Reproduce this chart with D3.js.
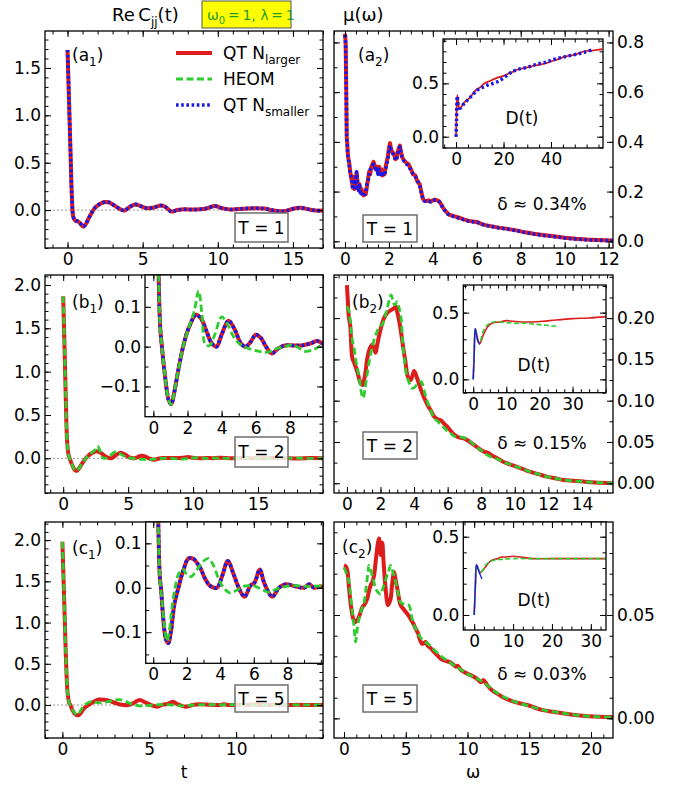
<!DOCTYPE html>
<html><head><meta charset="utf-8">
<script src="https://cdn.jsdelivr.net/npm/d3@7"></script>
<style>
body{margin:0;background:#fff;}
svg{font-family:"DejaVu Sans",sans-serif;}
</style></head><body>
<svg id="fig" width="681" height="786"></svg>
<script>
// ---------- Re C_jj(t), T = 1 ----------
const a1Larger=[[0,1.69],[0.1,1.15],[0.2,0.6],[0.3,0.1],[0.38,-0.07],[0.5,-0.11],[0.7,-0.12],[0.85,-0.14],[1.05,-0.175],[1.2,-0.15],[1.4,-0.09],[1.6,-0.03],[1.8,0.02],[2.1,0.06],[2.5,0.085],[2.8,0.08],[3.1,0.05],[3.5,0.01],[3.8,-0.005],[4.1,0.03],[4.5,0.06],[4.9,0.04],[5.3,0.02],[5.8,0.03],[6.2,0.048],[6.5,0.035],[6.9,-0.015],[7.3,0.0],[7.8,0.008],[8.3,0.005],[8.8,0.008],[9.3,0.02],[9.8,0.042],[10.3,0.02],[10.8,0.006],[11.4,0.012],[12,0.018],[12.6,0.02],[13.1,0.016],[13.6,0.0],[14.1,-0.012],[14.5,-0.01],[15,0.015],[15.5,0.025],[16,0.01],[16.5,-0.005],[17,-0.005]];
const a1Smaller=[[0,1.69],[0.1,1.15],[0.2,0.6],[0.3,0.1],[0.38,-0.07],[0.5,-0.11],[0.7,-0.12],[0.85,-0.14],[1.05,-0.175],[1.2,-0.15],[1.4,-0.09],[1.6,-0.03],[1.8,0.02],[2.1,0.06],[2.5,0.085],[2.8,0.08],[3.1,0.05],[3.5,0.01],[3.8,-0.005],[4.1,0.03],[4.5,0.06],[4.9,0.04],[5.3,0.02],[5.8,0.03],[6.2,0.048],[6.5,0.035],[6.9,-0.015],[7.3,0.0],[7.8,0.008],[8.3,0.005],[8.8,0.008],[9.3,0.02],[9.8,0.042],[10.3,0.02],[10.8,0.006],[11.4,0.012],[12,0.018],[12.6,0.02],[13.1,0.016],[13.6,0.0],[14.1,-0.012],[14.5,-0.01],[15,0.015],[15.5,0.025],[16,0.01],[16.5,-0.005],[17,-0.005]];

// ---------- Re C_jj(t), T = 2 ----------
const b1Larger=[[0,1.87],[0.1,1.3],[0.2,0.7],[0.3,0.2],[0.4,0.05],[0.5,0.0],[0.7,-0.08],[0.9,-0.135],[1.05,-0.145],[1.2,-0.12],[1.5,-0.05],[1.8,0.01],[2.1,0.05],[2.5,0.08],[2.8,0.07],[3.1,0.04],[3.4,0.01],[3.7,0.0],[4.0,0.03],[4.4,0.065],[4.8,0.04],[5.1,0.01],[5.4,0.0],[5.7,0.012],[6.0,0.03],[6.3,0.022],[6.6,0.0],[6.95,-0.017],[7.3,-0.005],[7.7,0.003],[8.2,0.003],[8.7,0.003],[9.2,0.008],[9.6,0.014],[10.0,0.006],[10.5,0.0],[11,0.004],[11.5,0.002],[12,0.006],[13,0.0],[14,0.004],[15,0.0],[16,0.003],[17,0.002],[18,-0.002],[19,0.004],[20,0.002]];
const b1Heom=[[0,1.87],[0.1,1.3],[0.2,0.7],[0.3,0.2],[0.4,0.05],[0.5,0.0],[0.7,-0.08],[0.9,-0.135],[1.05,-0.145],[1.2,-0.12],[1.5,-0.05],[1.8,0.01],[2.1,0.05],[2.4,0.09],[2.65,0.14],[2.85,0.08],[3.05,0.005],[3.3,0.003],[3.6,0.03],[4.0,0.075],[4.3,0.06],[4.7,0.025],[5.1,0.005],[5.6,-0.005],[6.2,-0.012],[6.7,-0.014],[7.2,-0.005],[7.7,0.0],[8.2,0.004],[8.9,-0.012],[9.5,-0.005],[10,0.006],[10.5,0.004],[11,0.0],[12,0.003],[13,-0.002],[14,0.002],[15,0.0],[16,0.002],[17,0.0],[18,0.002],[19,0.0],[20,0.001]];
const b1Smaller=[[0,1.87],[0.1,1.3],[0.2,0.7],[0.3,0.2],[0.4,0.05],[0.5,0.0],[0.7,-0.08],[0.9,-0.135],[1.05,-0.145],[1.2,-0.12],[1.5,-0.05],[1.8,0.01],[2.1,0.05],[2.5,0.08],[2.8,0.07],[3.1,0.04],[3.4,0.01],[3.7,0.0],[4.0,0.03],[4.4,0.065],[4.8,0.04],[5.1,0.01],[5.4,0.0],[5.7,0.012],[6.0,0.03],[6.3,0.022],[6.6,0.0],[6.95,-0.017],[7.3,-0.005],[7.7,0.003],[8.2,0.003],[8.7,0.003],[9.2,0.008],[9.6,0.014],[10.0,0.006]];

// ---------- Re C_jj(t), T = 5 ----------
const c1Larger=[[0,1.98],[0.1,1.3],[0.2,0.6],[0.3,0.15],[0.4,0.02],[0.46,0.0],[0.6,-0.07],[0.75,-0.115],[0.9,-0.125],[1.05,-0.1],[1.25,-0.04],[1.5,0.0],[1.8,0.04],[2.1,0.066],[2.4,0.065],[2.8,0.045],[3.1,0.02],[3.4,0.004],[3.8,0.0],[4.1,0.025],[4.45,0.06],[4.8,0.03],[5.1,0.0],[5.45,-0.02],[5.8,0.005],[6.05,0.012],[6.35,0.041],[6.65,0.008],[7.1,-0.02],[7.5,0.0],[7.9,0.008],[8.4,0.004],[9.0,0.0],[9.3,0.008],[9.6,0.0],[10,0.003],[10.5,0.002],[11,0.005],[11.5,0.0],[12,0.003],[12.5,0.004],[13,0.0],[13.5,0.002],[14,0.001],[15,0.0]];
const c1Heom=[[0,1.98],[0.1,1.3],[0.2,0.6],[0.3,0.15],[0.4,0.02],[0.5,-0.02],[0.65,-0.08],[0.82,-0.12],[0.95,-0.1],[1.1,-0.05],[1.3,0.0],[1.5,0.03],[1.75,0.042],[2.0,0.03],[2.25,0.025],[2.6,0.04],[3.0,0.06],[3.3,0.066],[3.6,0.05],[3.9,0.02],[4.2,0.0],[4.6,-0.012],[5.0,-0.005],[5.5,0.004],[6.0,0.004],[6.5,-0.004],[6.9,-0.01],[7.3,-0.004],[7.8,0.002],[8.5,0.005],[9.2,0.003],[10,0.004],[11,0.002],[12,0.0],[13,0.002],[14,0.001],[15,0.0]];
const c1Smaller=[[0,1.98],[0.1,1.3],[0.2,0.6],[0.3,0.15],[0.4,0.02],[0.46,0.0],[0.6,-0.07],[0.75,-0.115],[0.9,-0.125],[1.05,-0.1],[1.25,-0.04],[1.5,0.0],[1.8,0.04],[2.1,0.066],[2.4,0.065],[2.8,0.045],[3.1,0.02],[3.4,0.004],[3.8,0.0],[4.1,0.025],[4.45,0.06],[4.8,0.03],[5.1,0.0],[5.45,-0.02],[5.8,0.005],[6.05,0.012],[6.35,0.041],[6.65,0.008],[7.1,-0.02],[7.5,0.0],[7.9,0.008],[8.4,0.004],[9.0,0.0],[9.3,0.008],[9.6,0.0],[10,0.003]];

// ---------- mu(omega), T = 1 ----------
const a2Larger=[[0,0.835],[0.03,0.8],[0.06,0.6],[0.08,0.42],[0.1,0.4],[0.13,0.35],[0.16,0.33],[0.2,0.31],[0.24,0.28],[0.28,0.255],[0.32,0.24],[0.36,0.215],[0.4,0.26],[0.44,0.21],[0.48,0.24],[0.53,0.275],[0.57,0.24],[0.61,0.21],[0.66,0.23],[0.7,0.2],[0.75,0.21],[0.8,0.19],[0.85,0.185],[0.9,0.2],[0.95,0.19],[1.0,0.22],[1.05,0.25],[1.1,0.28],[1.15,0.27],[1.2,0.3],[1.25,0.31],[1.3,0.32],[1.35,0.305],[1.4,0.29],[1.45,0.3],[1.5,0.28],[1.55,0.3],[1.6,0.27],[1.65,0.29],[1.7,0.265],[1.75,0.28],[1.8,0.27],[1.85,0.3],[1.9,0.32],[1.95,0.34],[2.0,0.375],[2.05,0.395],[2.1,0.37],[2.15,0.36],[2.2,0.355],[2.25,0.345],[2.3,0.33],[2.35,0.335],[2.4,0.36],[2.45,0.375],[2.5,0.385],[2.55,0.36],[2.6,0.34],[2.65,0.33],[2.7,0.325],[2.8,0.315],[2.9,0.31],[3.0,0.29],[3.1,0.27],[3.2,0.265],[3.3,0.24],[3.4,0.23],[3.5,0.19],[3.55,0.17],[3.6,0.165],[3.7,0.162],[3.8,0.165],[3.9,0.16],[4.0,0.165],[4.1,0.168],[4.2,0.165],[4.3,0.16],[4.4,0.145],[4.5,0.13],[4.6,0.12],[4.7,0.11],[4.8,0.105],[5.0,0.1],[5.2,0.095],[5.4,0.088],[5.6,0.083],[5.8,0.08],[6.0,0.078],[6.2,0.07],[6.4,0.065],[6.7,0.06],[7.0,0.055],[7.4,0.05],[7.8,0.044],[8.2,0.036],[8.6,0.03],[9.0,0.025],[9.5,0.02],[10.0,0.014],[10.5,0.01],[11.0,0.007],[11.5,0.005],[12.2,0.003]];
const a2Smaller=[[0,0.83],[0.03,0.79],[0.06,0.58],[0.08,0.41],[0.1,0.39],[0.13,0.34],[0.16,0.33],[0.2,0.3],[0.24,0.27],[0.28,0.26],[0.32,0.23],[0.36,0.21],[0.4,0.25],[0.44,0.205],[0.48,0.235],[0.53,0.28],[0.57,0.235],[0.61,0.205],[0.66,0.225],[0.7,0.195],[0.75,0.2],[0.8,0.185],[0.85,0.18],[0.9,0.19],[0.95,0.2],[1.0,0.23],[1.05,0.24],[1.1,0.27],[1.15,0.29],[1.2,0.295],[1.25,0.3],[1.3,0.31],[1.35,0.3],[1.4,0.28],[1.45,0.29],[1.5,0.27],[1.55,0.29],[1.6,0.26],[1.65,0.28],[1.7,0.26],[1.75,0.27],[1.8,0.265],[1.85,0.29],[1.9,0.31],[1.95,0.33],[2.0,0.365],[2.05,0.385],[2.1,0.36],[2.15,0.355],[2.2,0.35],[2.25,0.34],[2.3,0.325],[2.35,0.33],[2.4,0.35],[2.45,0.37],[2.5,0.38],[2.55,0.355],[2.6,0.335],[2.65,0.33],[2.7,0.32],[2.8,0.31],[2.9,0.305],[3.0,0.285],[3.1,0.27],[3.2,0.26],[3.3,0.245],[3.4,0.225],[3.5,0.185],[3.55,0.17],[3.6,0.163],[3.7,0.16],[3.8,0.163],[3.9,0.158],[4.0,0.163],[4.1,0.166],[4.2,0.163],[4.3,0.158],[4.4,0.143],[4.5,0.128],[4.6,0.118],[4.7,0.108],[4.8,0.103],[5.0,0.098],[5.2,0.093],[5.4,0.087],[5.6,0.082],[5.8,0.079],[6.0,0.077],[6.2,0.069],[6.4,0.064],[6.7,0.059],[7.0,0.054],[7.4,0.049],[7.8,0.043],[8.2,0.035],[8.6,0.029],[9.0,0.024],[9.5,0.019],[10.0,0.013],[10.5,0.009],[11.0,0.006],[11.5,0.004],[12.2,0.002]];

// ---------- mu(omega), T = 2 ----------
const b2Larger=[[0,0.24],[0.05,0.222],[0.1,0.204],[0.2,0.19],[0.32,0.152],[0.45,0.145],[0.62,0.135],[0.8,0.122],[0.92,0.119],[1.02,0.125],[1.11,0.135],[1.2,0.15],[1.31,0.16],[1.42,0.166],[1.51,0.168],[1.6,0.165],[1.71,0.158],[1.8,0.167],[1.91,0.178],[2.05,0.19],[2.21,0.2],[2.35,0.205],[2.5,0.208],[2.65,0.21],[2.8,0.212],[2.9,0.214],[3.0,0.207],[3.1,0.198],[3.2,0.186],[3.3,0.172],[3.4,0.158],[3.5,0.145],[3.6,0.131],[3.7,0.127],[3.8,0.125],[3.9,0.13],[4.0,0.136],[4.1,0.132],[4.2,0.126],[4.3,0.12],[4.4,0.114],[4.55,0.106],[4.7,0.099],[4.85,0.093],[5.0,0.088],[5.15,0.082],[5.29,0.079],[5.45,0.077],[5.6,0.076],[5.8,0.072],[6.0,0.068],[6.2,0.063],[6.38,0.059],[6.6,0.056],[6.78,0.055],[7.0,0.054],[7.18,0.052],[7.4,0.049],[7.6,0.046],[7.8,0.043],[8.0,0.04],[8.2,0.038],[8.4,0.037],[8.6,0.034],[8.9,0.031],[9.3,0.026],[9.7,0.023],[10.1,0.02],[10.5,0.017],[10.9,0.014],[11.4,0.011],[11.9,0.008],[12.4,0.006],[12.9,0.004],[13.5,0.003],[14.1,0.002],[14.8,0.001],[15.85,0.0]];
const b2Heom=[[0,0.214],[0.07,0.212],[0.15,0.205],[0.25,0.185],[0.35,0.17],[0.42,0.164],[0.52,0.15],[0.62,0.14],[0.75,0.125],[0.88,0.108],[0.97,0.103],[1.08,0.115],[1.2,0.131],[1.35,0.15],[1.5,0.164],[1.65,0.176],[1.8,0.184],[1.95,0.19],[2.1,0.192],[2.25,0.2],[2.4,0.212],[2.52,0.222],[2.63,0.228],[2.73,0.222],[2.83,0.216],[2.92,0.218],[3.0,0.22],[3.1,0.213],[3.2,0.204],[3.28,0.185],[3.35,0.164],[3.45,0.145],[3.55,0.131],[3.7,0.122],[3.89,0.115],[4.02,0.116],[4.15,0.119],[4.3,0.122],[4.43,0.123],[4.6,0.112],[4.79,0.099],[5.0,0.088],[5.19,0.079],[5.4,0.075],[5.59,0.071],[5.8,0.067],[5.99,0.063],[6.2,0.06],[6.38,0.057],[6.7,0.056],[6.98,0.055],[7.18,0.053],[7.38,0.05],[7.7,0.044],[7.98,0.04],[8.3,0.035],[8.57,0.032],[8.9,0.03],[9.3,0.026],[9.7,0.023],[10.1,0.02],[10.5,0.017],[10.9,0.014],[11.4,0.011],[11.9,0.008],[12.4,0.006],[12.9,0.004],[13.5,0.003],[14.1,0.002],[14.8,0.001],[15.85,0.0]];

// ---------- mu(omega), T = 5 ----------
const c2Larger=[[0,0.074],[0.15,0.0735],[0.27,0.0716],[0.38,0.065],[0.49,0.058],[0.62,0.052],[0.76,0.048],[0.94,0.0466],[1.13,0.048],[1.35,0.0515],[1.5,0.054],[1.62,0.0547],[1.75,0.056],[1.89,0.058],[2.0,0.061],[2.16,0.0644],[2.3,0.066],[2.43,0.069],[2.55,0.075],[2.65,0.0805],[2.75,0.085],[2.84,0.087],[2.92,0.082],[2.97,0.079],[3.03,0.082],[3.1,0.085],[3.18,0.078],[3.27,0.07],[3.37,0.0627],[3.47,0.057],[3.56,0.0547],[3.67,0.056],[3.78,0.058],[3.9,0.065],[4.05,0.0708],[4.18,0.067],[4.32,0.0627],[4.45,0.058],[4.59,0.0547],[4.8,0.053],[5.0,0.0515],[5.2,0.05],[5.4,0.048],[5.6,0.046],[5.8,0.0434],[6.0,0.041],[6.15,0.038],[6.34,0.036],[6.5,0.0365],[6.61,0.037],[6.8,0.035],[7.02,0.034],[7.3,0.032],[7.56,0.0305],[7.8,0.029],[8.1,0.028],[8.4,0.0275],[8.64,0.027],[8.85,0.026],[9.05,0.025],[9.2,0.0255],[9.45,0.0235],[9.7,0.0225],[10.0,0.0216],[10.4,0.0205],[10.8,0.019],[11.1,0.0175],[11.3,0.0185],[11.6,0.016],[12.0,0.0135],[12.36,0.0121],[12.8,0.0105],[13.1,0.0095],[13.4,0.0088],[13.8,0.008],[14.3,0.0072],[14.8,0.0065],[15.2,0.0058],[15.6,0.0048],[16.1,0.004],[16.9,0.0032],[17.7,0.0025],[18.5,0.0018],[19.3,0.0013],[20.3,0.0009],[21.8,0.0006]];
const c2Heom=[[0,0.073],[0.2,0.07],[0.4,0.066],[0.55,0.058],[0.67,0.0515],[0.8,0.045],[0.94,0.037],[1.05,0.042],[1.21,0.048],[1.4,0.052],[1.62,0.056],[1.8,0.064],[1.95,0.071],[2.02,0.074],[2.15,0.072],[2.29,0.069],[2.42,0.066],[2.56,0.0627],[2.75,0.061],[2.97,0.06],[3.15,0.063],[3.37,0.067],[3.6,0.071],[3.78,0.074],[3.95,0.071],[4.18,0.066],[4.4,0.06],[4.59,0.056],[4.9,0.0552],[5.26,0.0547],[5.45,0.05],[5.67,0.045],[5.95,0.042],[6.21,0.039],[6.6,0.037],[7.0,0.035],[7.5,0.032],[8.1,0.029],[8.6,0.027],[9.1,0.025],[9.6,0.023],[10.0,0.0215],[10.5,0.02],[11.0,0.0185],[11.5,0.0165],[12.0,0.014],[12.5,0.0118],[13.0,0.0102],[13.5,0.0088],[14.0,0.0077],[14.5,0.0068],[15.0,0.006],[15.6,0.0049],[16.2,0.004],[17.0,0.0031],[17.8,0.0024],[18.6,0.0017],[19.5,0.0012],[20.5,0.0008],[21.8,0.0006]];

// ---------- D(t) insets ----------
const a2DLarger=[[0,0],[0.2,0.2],[0.5,0.39],[0.9,0.33],[1.4,0.26],[2,0.27],[3,0.31],[4,0.33],[5,0.35],[6,0.37],[7,0.4],[8.5,0.44],[10,0.46],[12,0.5],[14,0.52],[17,0.55],[20,0.57],[23,0.6],[26,0.63],[30,0.65],[34,0.67],[38,0.69],[42,0.72],[46,0.75],[50,0.77],[54,0.8],[58,0.81],[61.5,0.82]];
const a2DSmaller=[[0,0],[0.2,0.15],[0.5,0.38],[0.9,0.3],[1.4,0.27],[2,0.27],[3,0.3],[4,0.32],[5,0.35],[6,0.37],[7,0.39],[8.5,0.43],[10,0.45],[12,0.47],[14,0.49],[17,0.51],[20,0.55],[23,0.6],[26,0.63],[30,0.65],[34,0.68],[38,0.7],[42,0.73],[46,0.75],[50,0.77],[54,0.79],[58,0.82]];
const b2DLarger=[[0,0],[0.3,0.2],[0.6,0.38],[1.0,0.34],[1.5,0.29],[2.0,0.27],[3,0.33],[4,0.38],[5,0.41],[6,0.425],[8,0.43],[10,0.44],[12,0.435],[15,0.43],[18,0.43],[21,0.435],[25,0.445],[30,0.455],[35,0.46],[40,0.47]];
const b2DHeom=[[0,0],[0.3,0.2],[0.6,0.38],[1.0,0.34],[1.5,0.28],[2,0.28],[3,0.36],[4,0.4],[5,0.42],[6,0.43],[8,0.43],[10,0.425],[13,0.42],[16,0.42],[18,0.415],[20,0.41],[22,0.405],[24,0.4],[25,0.4]];
const b2DSmaller=[[0,0],[0.3,0.2],[0.6,0.38],[1.0,0.33],[1.5,0.28],[2.0,0.26]];
const c2DLarger=[[0,0],[0.3,0.18],[0.6,0.32],[1.0,0.3],[1.5,0.27],[2,0.28],[3,0.31],[4,0.34],[5,0.355],[6,0.36],[7,0.37],[8,0.37],[10,0.375],[12,0.37],[15,0.36],[20,0.36],[25,0.36],[30,0.36],[34,0.36]];
const c2DHeom=[[0,0],[0.3,0.18],[0.6,0.32],[1,0.3],[1.5,0.27],[2,0.28],[3,0.32],[4,0.34],[5,0.35],[7,0.355],[10,0.36],[15,0.36],[20,0.36],[25,0.36],[30,0.36],[34,0.36]];
const c2DSmaller=[[0,0],[0.3,0.18],[0.6,0.32],[1,0.29],[1.5,0.26],[2,0.23]];

// ---------- tick values ----------
const tTicks=[0,5,10,15], tTicksC=[0,5,10];
const reTicks=[0,0.5,1.0,1.5], reTicksBC=[0,0.5,1.0,1.5,2.0];
const wTicksA=[0,2,4,6,8,10,12], wTicksB=[0,2,4,6,8,10,12,14], wTicksC=[0,5,10,15,20];
const muTicksA=[0,0.2,0.4,0.6,0.8], muTicksB=[0,0.05,0.1,0.15,0.2], muTicksC=[0,0.05];
const insTTicks=[0,2,4,6,8], insReTicks=[-0.1,0,0.1];
const dTTicksA=[0,20,40], dTTicksBC=[0,10,20,30], dTicks=[0,0.5];

// ---------- styles ----------
const RED="#dd1c1c", GREEN="#2fcc2f", BLUE="#1818e8";
const svg=d3.select("#fig");
const FS=17, MAJ=6, MIN=3.5;
let clipN=0;

function stepTicks(dom,step){
  const out=[];
  for(let i=Math.ceil(dom[0]/step-1e-9);i<=Math.floor(dom[1]/step+1e-9);i++) out.push(+(i*step).toFixed(6));
  return out;
}

function makePanel(o){
  const [L,T,R,B]=o.box;
  const x=d3.scaleLinear().domain(o.xd).range([L,R]);
  const y=d3.scaleLinear().domain(o.yd).range([B,T]);
  const g=svg.append("g");
  g.append("rect").attr("x",L).attr("y",T).attr("width",R-L).attr("height",B-T).attr("fill","#fff");
  const cid="clip"+(clipN++);
  svg.append("clipPath").attr("id",cid).append("rect").attr("x",L).attr("y",T).attr("width",R-L).attr("height",B-T);
  const plot=g.append("g").attr("clip-path",`url(#${cid})`);
  const ax=g.append("g");
  const xm=stepTicks(o.xd,o.xMinor), ym=stepTicks(o.yd,o.yMinor);
  const yf=d3.format(o.yFmt), xf=d3.format("d");
  const put=(tr,axis)=>ax.append("g").attr("transform",tr).call(axis);
  put(`translate(0,${B})`,d3.axisBottom(x).tickValues(xm).tickSize(-MIN).tickFormat(""));
  put(`translate(0,${T})`,d3.axisTop(x).tickValues(xm).tickSize(-MIN).tickFormat(""));
  put(`translate(0,${B})`,d3.axisBottom(x).tickValues(o.xMajor).tickSize(-MAJ).tickPadding(5).tickFormat(xf));
  put(`translate(0,${T})`,d3.axisTop(x).tickValues(o.xMajor).tickSize(-MAJ).tickFormat(""));
  put(`translate(${L},0)`,d3.axisLeft(y).tickValues(ym).tickSize(-MIN).tickFormat(""));
  put(`translate(${R},0)`,d3.axisRight(y).tickValues(ym).tickSize(-MIN).tickFormat(""));
  put(`translate(${L},0)`,d3.axisLeft(y).tickValues(o.yMajor).tickSize(-MAJ).tickPadding(4).tickFormat(o.ySide==="left"?yf:""));
  put(`translate(${R},0)`,d3.axisRight(y).tickValues(o.yMajor).tickSize(-MAJ).tickPadding(4).tickFormat(o.ySide==="right"?yf:""));
  ax.selectAll(".domain").remove();
  ax.selectAll("g").attr("font-size",FS).attr("font-family","DejaVu Sans");
  ax.selectAll("text").attr("fill","#000");
  ax.selectAll("line").attr("stroke","#000").attr("stroke-width",1);
  ax.append("rect").attr("x",L).attr("y",T).attr("width",R-L).attr("height",B-T)
    .attr("fill","none").attr("stroke","#000").attr("stroke-width",1.3);
  return {x,y,g,plot};
}

const smooth=d3.curveCatmullRom.alpha(0.5);
function drawLine(p,data,st,curve){
  p.plot.append("path").datum(data)
    .attr("d",d3.line().x(d=>p.x(d[0])).y(d=>p.y(d[1])).curve(curve||d3.curveLinear))
    .attr("fill","none").attr("stroke",st.c).attr("stroke-width",st.w)
    .attr("stroke-dasharray",st.dash||null).attr("stroke-linejoin","round");
}
function zeroLine(p){
  const d=p.x.domain();
  p.plot.append("line").attr("x1",p.x(d[0])).attr("x2",p.x(d[1])).attr("y1",p.y(0)).attr("y2",p.y(0))
    .attr("stroke","#9a9a9a").attr("stroke-width",1).attr("stroke-dasharray","2,2");
}
const thickRed={c:RED,w:4}, thickGreen={c:GREEN,w:2.8,dash:"7,3.5"}, thickBlue={c:BLUE,w:3.6,dash:"2.6,2.6"};
const thinRed={c:RED,w:1.6}, thinGreen={c:GREEN,w:1.6,dash:"5,2.5"}, thinBlue={c:BLUE,w:1.3};

function txt(x,y,parts,opt={}){
  const t=svg.append("text").attr("x",x).attr("y",y).attr("font-size",opt.fs||FS)
    .attr("text-anchor",opt.anchor||"start").attr("fill",opt.fill||"#000");
  parts.forEach(pt=>{
    if(typeof pt==="string") t.append("tspan").text(pt);
    else t.append("tspan").attr("dy",pt.dy).attr("font-size",pt.fs||null).text(pt.t);
  });
  return t;
}
function tBox(L,T,R,B,label){
  svg.append("rect").attr("x",L).attr("y",T).attr("width",R-L).attr("height",B-T)
    .attr("fill","#fff").attr("fill-opacity",0.8).attr("stroke","#6e6e6e").attr("stroke-width",1.5);
  txt((L+R)/2,(T+B)/2+6,[label],{anchor:"middle"});
}

// ===== column 1: Re C_jj(t) =====
const pa1=makePanel({box:[45,31,323,248],xd:[-1.5,17],yd:[-0.4,1.89],xMajor:tTicks,xMinor:1,yMajor:reTicks,yMinor:0.1,yFmt:".1f",ySide:"left"});
zeroLine(pa1);
drawLine(pa1,a1Larger,thickRed,smooth);
drawLine(pa1,a1Smaller,thickBlue,smooth);

const pb1=makePanel({box:[45,275,323,493],xd:[-1.4,20],yd:[-0.4,2.115],xMajor:tTicks,xMinor:1,yMajor:reTicksBC,yMinor:0.1,yFmt:".1f",ySide:"left"});
zeroLine(pb1);
drawLine(pb1,b1Larger,thickRed,smooth);
drawLine(pb1,b1Heom,thickGreen,smooth);

const pc1=makePanel({box:[45,522,323,738],xd:[-1,15],yd:[-0.4,2.22],xMajor:tTicksC,xMinor:1,yMajor:reTicksBC,yMinor:0.1,yFmt:".1f",ySide:"left"});
zeroLine(pc1);
drawLine(pc1,c1Larger,thickRed,smooth);
drawLine(pc1,c1Heom,thickGreen,smooth);

// ===== column 2: mu(omega) =====
const pa2=makePanel({box:[334,31,613,248],xd:[-0.5,12.2],yd:[-0.027,0.846],xMajor:wTicksA,xMinor:0.5,yMajor:muTicksA,yMinor:0.1,yFmt:".1f",ySide:"right"});
drawLine(pa2,a2Larger,thickRed);
drawLine(pa2,a2Smaller,thickBlue);

const pb2=makePanel({box:[334,275,613,493],xd:[-0.77,15.85],yd:[-0.0118,0.2522],xMajor:wTicksB,xMinor:0.5,yMajor:muTicksB,yMinor:0.025,yFmt:".2f",ySide:"right"});
drawLine(pb2,b2Larger,thickRed,smooth);
drawLine(pb2,b2Heom,thickGreen,smooth);

const pc2=makePanel({box:[334,522,613,738],xd:[-0.81,21.78],yd:[-0.0095,0.095],xMajor:wTicksC,xMinor:1,yMajor:muTicksC,yMinor:0.01,yFmt:".2f",ySide:"right"});
drawLine(pc2,c2Larger,thickRed,smooth);
drawLine(pc2,c2Heom,thickGreen,smooth);

// ===== insets =====
const ib1=makePanel({box:[145,275,323,416.7],xd:[-0.49,9.94],yd:[-0.176,0.18],xMajor:insTTicks,xMinor:1,yMajor:insReTicks,yMinor:0.05,yFmt:".1f",ySide:"left"});
drawLine(ib1,b1Larger,thickRed,smooth);
drawLine(ib1,b1Smaller,thickBlue,smooth);
drawLine(ib1,b1Heom,thickGreen,smooth);

const ic1=makePanel({box:[145.7,522,323,663.3],xd:[-0.45,10.13],yd:[-0.17,0.148],xMajor:insTTicks,xMinor:1,yMajor:insReTicks,yMinor:0.05,yFmt:".1f",ySide:"left"});
drawLine(ic1,c1Larger,thickRed,smooth);
drawLine(ic1,c1Smaller,thickBlue,smooth);
drawLine(ic1,c1Heom,thickGreen,smooth);

const ia2=makePanel({box:[443,39,603,148],xd:[-5.5,61.9],yd:[-0.106,0.916],xMajor:dTTicksA,xMinor:5,yMajor:dTicks,yMinor:0.1,yFmt:".1f",ySide:"left"});
drawLine(ia2,a2DLarger,{c:RED,w:1.8},smooth);
drawLine(ia2,a2DSmaller,{c:BLUE,w:3.4,dash:"2.6,2.6"},smooth);

const ib2=makePanel({box:[463.3,285,606,392.7],xd:[-3.0,40.1],yd:[-0.1,0.707],xMajor:dTTicksBC,xMinor:2.5,yMajor:dTicks,yMinor:0.1,yFmt:".1f",ySide:"left"});
drawLine(ib2,b2DLarger,thinRed,smooth);
drawLine(ib2,b2DHeom,thinGreen,smooth);
drawLine(ib2,b2DSmaller,thinBlue,smooth);

const ic2=makePanel({box:[463.3,522,606,630],xd:[-2.8,33.9],yd:[-0.096,0.594],xMajor:dTTicksBC,xMinor:2.5,yMajor:dTicks,yMinor:0.1,yFmt:".1f",ySide:"left"});
drawLine(ic2,c2DLarger,thinRed,smooth);
drawLine(ic2,c2DHeom,thinGreen,smooth);
drawLine(ic2,c2DSmaller,thinBlue,smooth);

// ===== annotations =====
const sub=(t)=>({t,dy:5,fs:12}), back=(t)=>({t,dy:-5});
txt(72,61,["(a",sub("1"),back(")")]);
txt(358,61,["(a",sub("2"),back(")")]);
txt(72,308,["(b",sub("1"),back(")")]);
txt(352,308,["(b",sub("2"),back(")")]);
txt(72,554,["(c",sub("1"),back(")")]);
txt(342,553,["(c",sub("2"),back(")")]);

tBox(235,213,288,242,"T = 1");
tBox(363,215,417,242,"T = 1");
tBox(235,437,288,467,"T = 2");
tBox(363,432,417,459,"T = 2");
tBox(235,685,288,712,"T = 5");
tBox(363,685,417,712,"T = 5");

txt(542,210,["δ ≈ 0.34%"],{anchor:"middle"});
txt(542,449,["δ ≈ 0.15%"],{anchor:"middle"});
txt(542,680,["δ ≈ 0.03%"],{anchor:"middle"});

txt(522,124,["D(t)"],{anchor:"middle"});
txt(534,371,["D(t)"],{anchor:"middle"});
txt(534,606,["D(t)"],{anchor:"middle"});

// legend
const legend=[{st:thickRed,lab:["QT N",sub("larger")],y:53},{st:thickGreen,lab:["HEOM"],y:79},{st:thickBlue,lab:["QT N",sub("smaller")],y:105}];
legend.forEach(l=>{
  svg.append("line").attr("x1",176).attr("x2",212).attr("y1",l.y).attr("y2",l.y)
    .attr("stroke",l.st.c).attr("stroke-width",l.st.w).attr("stroke-dasharray",l.st.dash||null);
  txt(223,l.y+6,l.lab);
});

// titles
txt(112,21,["Re\u2009C",{t:"jj",dy:5,fs:12},{t:"(t)",dy:-5}],{fs:18});
txt(343,21,["μ(ω)"],{fs:18});
svg.append("rect").attr("x",202).attr("y",1).attr("width",89).attr("height",27).attr("fill","#ffff00").attr("stroke","#555").attr("stroke-width",1);
txt(207,20,["ω",{t:"0",dy:4,fs:10},{t:"\u2009=\u20091, λ\u2009=\u20091",dy:-4}],{fs:14,fill:"#279b27"});

// axis labels
txt(184,778,["t"],{anchor:"middle"});
txt(473,778,["ω"],{anchor:"middle"});
</script>
</body></html>
